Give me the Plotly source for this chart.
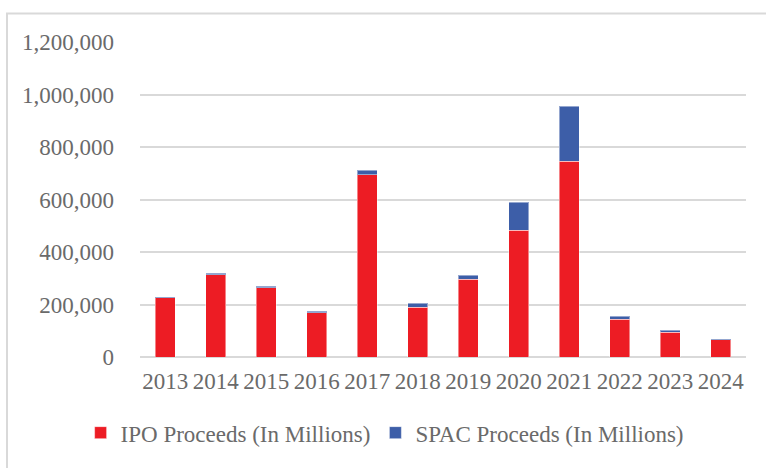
import plotly.graph_objects as go

years = ["2013", "2014", "2015", "2016", "2017", "2018", "2019", "2020", "2021", "2022", "2023", "2024"]
ipo_proceeds = [226000, 314000, 264000, 169000, 695000, 189000, 296000, 483000, 745000, 143000, 95000, 66000]
spac_proceeds = [4000, 6000, 6000, 6000, 17000, 15000, 15000, 106000, 210000, 12000, 6000, 4000]
y_ticks = [0, 200000, 400000, 600000, 800000, 1000000, 1200000]

FONT = "Liberation Serif"
TXT = "#6A6A6A"
GRID = "#D9D9D9"
FS = 23

fig = go.Figure()
fig.add_trace(go.Bar(
    x=years, y=ipo_proceeds, name="IPO Proceeds (In Millions)",
    marker=dict(color="#ED1C24", line=dict(color="rgba(255,255,255,0.45)", width=1)),
))
fig.add_trace(go.Bar(
    x=years, y=spac_proceeds, name="SPAC Proceeds (In Millions)",
    marker=dict(color="#3D5EA8", line=dict(color="rgba(255,255,255,0.45)", width=1)),
))

fig.update_layout(
    width=766, height=468,
    barmode="stack", bargap=0.61,
    margin=dict(l=140, r=20, t=42, b=111),
    paper_bgcolor="white", plot_bgcolor="white",
    font=dict(family=FONT, size=FS, color=TXT),
    showlegend=True,
    legend=dict(
        orientation="h", x=-0.098, xanchor="left", y=-0.172, yanchor="top",
        font=dict(family=FONT, size=FS, color=TXT),
        traceorder="normal", itemwidth=30, tracegroupgap=0,
        bgcolor="rgba(0,0,0,0)",
    ),
    xaxis=dict(
        showgrid=False, showline=False, zeroline=False, ticks="",
        tickfont=dict(family=FONT, size=FS, color=TXT),
        ticklabelstandoff=8,
    ),
    yaxis=dict(
        range=[0, 1200000], tickvals=y_ticks, tickformat=",d",
        showgrid=True, gridcolor=GRID, gridwidth=2,
        zeroline=True, zerolinecolor=GRID, zerolinewidth=2,
        showline=False, ticks="",
        tickfont=dict(family=FONT, size=FS, color=TXT),
        ticklabelstandoff=25,
    ),
    shapes=[dict(
        type="rect", xref="paper", yref="paper",
        x0=(7 - 140) / 606, x1=(790 - 140) / 606,
        y0=(357 - 490) / 315, y1=(357 - 13.5) / 315,
        line=dict(color=GRID, width=2), fillcolor="rgba(0,0,0,0)", layer="below",
    )],
)

fig.write_html("out.html")
